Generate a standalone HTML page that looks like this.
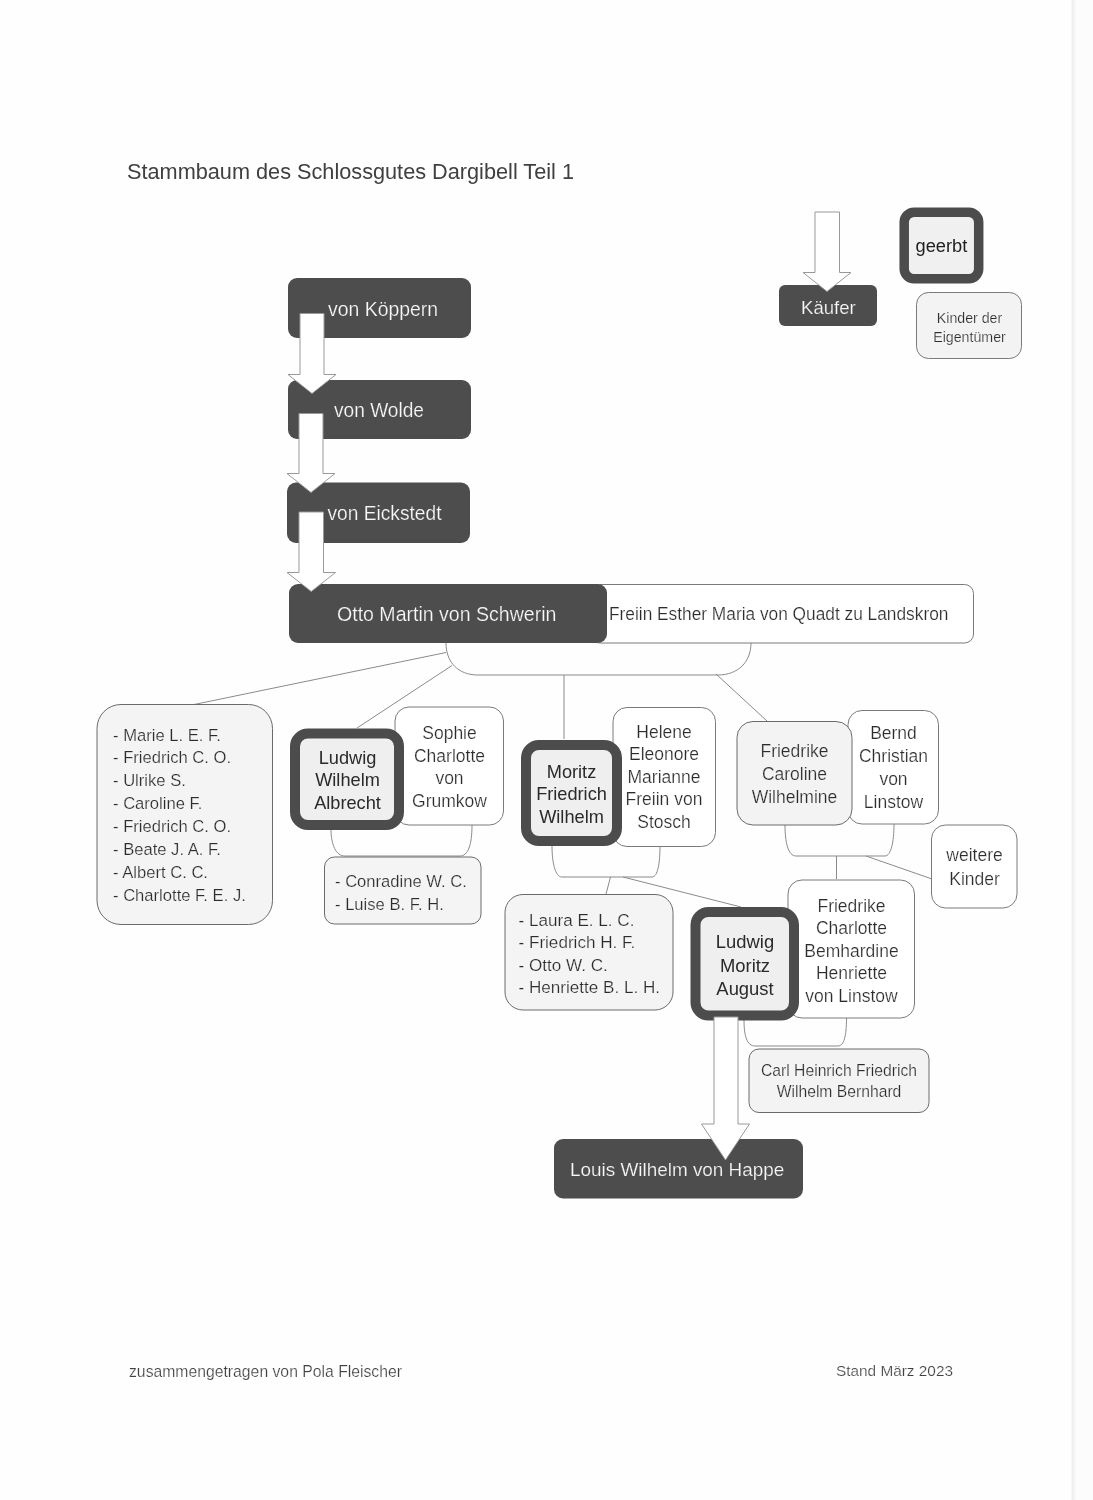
<!DOCTYPE html>
<html><head><meta charset="utf-8"><style>
html,body{margin:0;padding:0;background:#fefefe;}
body{width:1093px;height:1500px;overflow:hidden;position:relative;}
svg{position:absolute;left:0;top:0;will-change:transform;}
text{font-family:"Liberation Sans", sans-serif;}
</style></head><body>
<svg width="1093" height="1500" viewBox="0 0 1093 1500">
<defs><linearGradient id="eg" x1="0" x2="1" y1="0" y2="0"><stop offset="0" stop-color="#fefefe"/><stop offset="0.3" stop-color="#eeeeee"/><stop offset="1" stop-color="#fbfbfb"/></linearGradient></defs>
<rect x="1071" y="0" width="5" height="1500" fill="url(#eg)"/>
<rect x="1076" y="0" width="17" height="1500" fill="#fcfcfc"/>
<text x="127" y="179" font-size="22" fill="#404040" text-anchor="start"  textLength="447.0" lengthAdjust="spacingAndGlyphs">Stammbaum des Schlossgutes Dargibell Teil 1</text>
<rect x="779" y="285" width="98" height="41" rx="6" fill="#4d4d4d"/>
<text x="801" y="314" font-size="18.5" fill="#f8f8f8" text-anchor="start"  stroke="#4d4d4d" stroke-width="0.2" textLength="54.7" lengthAdjust="spacingAndGlyphs">K&#228;ufer</text>
<path d="M815,212 L839.5,212 L839.5,272.5 L851,272.5 L827.0,291.5 L803,272.5 L815,272.5 Z" fill="#fff" stroke="#999999" stroke-width="1"/>
<rect x="904.2" y="212.2" width="74.5" height="66.5" rx="10" fill="#f0f0f0" stroke="#4c4c4c" stroke-width="9.5"/>
<text x="915.5" y="252" font-size="18" fill="#1e1e1e" text-anchor="start"  textLength="51.8" lengthAdjust="spacingAndGlyphs">geerbt</text>
<rect x="916.5" y="292.5" width="105.0" height="66.0" rx="12" fill="#f3f3f3" stroke="#7a7a7a" stroke-width="1"/>
<text x="969.5" y="323" font-size="14.2" fill="#2c2c2c" text-anchor="middle"  stroke="#f3f3f3" stroke-width="0.22">Kinder der</text>
<text x="969.5" y="342" font-size="14.2" fill="#2c2c2c" text-anchor="middle"  stroke="#f3f3f3" stroke-width="0.22">Eigent&#252;mer</text>
<rect x="288" y="278" width="183" height="60" rx="9" fill="#4d4d4d"/>
<text x="328" y="316" font-size="19.3" fill="#f8f8f8" text-anchor="start"  stroke="#4d4d4d" stroke-width="0.2" textLength="110.1" lengthAdjust="spacingAndGlyphs">von K&#246;ppern</text>
<rect x="288" y="380" width="183" height="59" rx="9" fill="#4d4d4d"/>
<text x="334" y="416.5" font-size="19.3" fill="#f8f8f8" text-anchor="start"  stroke="#4d4d4d" stroke-width="0.2" textLength="90.0" lengthAdjust="spacingAndGlyphs">von Wolde</text>
<rect x="287" y="482.5" width="183" height="60.5" rx="9" fill="#4d4d4d"/>
<text x="327.5" y="520" font-size="19.3" fill="#f8f8f8" text-anchor="start"  stroke="#4d4d4d" stroke-width="0.2" textLength="114.0" lengthAdjust="spacingAndGlyphs">von Eickstedt</text>
<path d="M300,313.5 L324,313.5 L324,374.5 L336,374.5 L312.0,393.5 L288,374.5 L300,374.5 Z" fill="#fff" stroke="#999999" stroke-width="1"/>
<path d="M299,413.5 L323,413.5 L323,473.5 L335,473.5 L311.0,492.5 L287,473.5 L299,473.5 Z" fill="#fff" stroke="#999999" stroke-width="1"/>
<rect x="590.5" y="584.5" width="383.0" height="58.5" rx="9" fill="#fff" stroke="#7a7a7a" stroke-width="1"/>
<rect x="289" y="584" width="318" height="59" rx="9" fill="#4d4d4d"/>
<text x="337" y="621" font-size="19.3" fill="#f8f8f8" text-anchor="start"  stroke="#4d4d4d" stroke-width="0.2" textLength="219.4" lengthAdjust="spacingAndGlyphs">Otto Martin von Schwerin</text>
<text x="609" y="620" font-size="18.3" fill="#2c2c2c" text-anchor="start"  stroke="#fff" stroke-width="0.22" textLength="339.4" lengthAdjust="spacingAndGlyphs">Freiin Esther Maria von Quadt zu Landskron</text>
<path d="M299,512 L323.5,512 L323.5,572.5 L335.5,572.5 L311.25,591.5 L287,572.5 L299,572.5 Z" fill="#fff" stroke="#999999" stroke-width="1"/>
<path d="M446,643 C446,662 458,675 478,675 L718,675 C738,675 751,662 751,643" fill="none" stroke="#8a8a8a" stroke-width="1"/>
<path d="M564,675 L564,739" fill="none" stroke="#8a8a8a" stroke-width="1"/>
<path d="M446,652.5 L194,704.5" fill="none" stroke="#8a8a8a" stroke-width="1"/>
<path d="M452,665.5 L357,728" fill="none" stroke="#8a8a8a" stroke-width="1"/>
<path d="M716,674 L767,721" fill="none" stroke="#8a8a8a" stroke-width="1"/>
<rect x="97.0" y="704.5" width="175.5" height="220.0" rx="24" fill="#f4f4f4" stroke="#6a6a6a" stroke-width="1"/>
<text x="113" y="740.5" font-size="16.6" fill="#2c2c2c" text-anchor="start"  stroke="#f4f4f4" stroke-width="0.22">- Marie L. E. F.</text>
<text x="113" y="763.4" font-size="16.6" fill="#2c2c2c" text-anchor="start"  stroke="#f4f4f4" stroke-width="0.22">- Friedrich C. O.</text>
<text x="113" y="786.3" font-size="16.6" fill="#2c2c2c" text-anchor="start"  stroke="#f4f4f4" stroke-width="0.22">- Ulrike S.</text>
<text x="113" y="809.2" font-size="16.6" fill="#2c2c2c" text-anchor="start"  stroke="#f4f4f4" stroke-width="0.22">- Caroline F.</text>
<text x="113" y="832.1" font-size="16.6" fill="#2c2c2c" text-anchor="start"  stroke="#f4f4f4" stroke-width="0.22">- Friedrich C. O.</text>
<text x="113" y="855.0" font-size="16.6" fill="#2c2c2c" text-anchor="start"  stroke="#f4f4f4" stroke-width="0.22">- Beate J. A. F.</text>
<text x="113" y="877.9" font-size="16.6" fill="#2c2c2c" text-anchor="start"  stroke="#f4f4f4" stroke-width="0.22">- Albert C. C.</text>
<text x="113" y="900.8" font-size="16.6" fill="#2c2c2c" text-anchor="start"  stroke="#f4f4f4" stroke-width="0.22">- Charlotte F. E. J.</text>
<path d="M331,829 C331,845 336,856 345,856 L460,856 C468,856 472,845 472,825" fill="none" stroke="#8a8a8a" stroke-width="1"/>
<rect x="395.0" y="707.0" width="108.5" height="118.0" rx="14" fill="#fff" stroke="#7a7a7a" stroke-width="1"/>
<text x="449.5" y="739.0" font-size="17.5" fill="#2c2c2c" text-anchor="middle"  stroke="#fff" stroke-width="0.22">Sophie</text>
<text x="449.5" y="761.6" font-size="17.5" fill="#2c2c2c" text-anchor="middle"  stroke="#fff" stroke-width="0.22">Charlotte</text>
<text x="449.5" y="784.2" font-size="17.5" fill="#2c2c2c" text-anchor="middle"  stroke="#fff" stroke-width="0.22">von</text>
<text x="449.5" y="806.8" font-size="17.5" fill="#2c2c2c" text-anchor="middle"  stroke="#fff" stroke-width="0.22">Grumkow</text>
<rect x="295.0" y="733.5" width="104.0" height="91.5" rx="13" fill="#efefef" stroke="#4c4c4c" stroke-width="10"/>
<text x="347.5" y="763.5" font-size="18.2" fill="#2a2a2a" text-anchor="middle" >Ludwig</text>
<text x="347.5" y="786.1" font-size="18.2" fill="#2a2a2a" text-anchor="middle" >Wilhelm</text>
<text x="347.5" y="808.7" font-size="18.2" fill="#2a2a2a" text-anchor="middle" >Albrecht</text>
<rect x="324.5" y="857.0" width="156.5" height="67.0" rx="10" fill="#f4f4f4" stroke="#6a6a6a" stroke-width="1"/>
<text x="335" y="886.5" font-size="16.6" fill="#2c2c2c" text-anchor="start"  stroke="#f4f4f4" stroke-width="0.22">- Conradine W. C.</text>
<text x="335" y="909.5" font-size="16.6" fill="#2c2c2c" text-anchor="start"  stroke="#f4f4f4" stroke-width="0.22">- Luise B. F. H.</text>
<path d="M552,846 C552,862 555,877 562,877 L652,877 C658,877 660,862 660,846" fill="none" stroke="#8a8a8a" stroke-width="1"/>
<path d="M610.5,877 L606,894" fill="none" stroke="#8a8a8a" stroke-width="1"/>
<path d="M623,877 L741,907" fill="none" stroke="#8a8a8a" stroke-width="1"/>
<rect x="613.0" y="707.5" width="102.5" height="139.0" rx="14" fill="#fff" stroke="#7a7a7a" stroke-width="1"/>
<text x="664" y="737.5" font-size="17.5" fill="#2c2c2c" text-anchor="middle"  stroke="#fff" stroke-width="0.22">Helene</text>
<text x="664" y="760.1" font-size="17.5" fill="#2c2c2c" text-anchor="middle"  stroke="#fff" stroke-width="0.22">Eleonore</text>
<text x="664" y="782.7" font-size="17.5" fill="#2c2c2c" text-anchor="middle"  stroke="#fff" stroke-width="0.22">Marianne</text>
<text x="664" y="805.3" font-size="17.5" fill="#2c2c2c" text-anchor="middle"  stroke="#fff" stroke-width="0.22">Freiin von</text>
<text x="664" y="827.9" font-size="17.5" fill="#2c2c2c" text-anchor="middle"  stroke="#fff" stroke-width="0.22">Stosch</text>
<rect x="526.0" y="745.0" width="91.0" height="96.0" rx="13" fill="#efefef" stroke="#4c4c4c" stroke-width="10"/>
<text x="571.5" y="777.5" font-size="18.2" fill="#2a2a2a" text-anchor="middle" >Moritz</text>
<text x="571.5" y="800.1" font-size="18.2" fill="#2a2a2a" text-anchor="middle" >Friedrich</text>
<text x="571.5" y="822.7" font-size="18.2" fill="#2a2a2a" text-anchor="middle" >Wilhelm</text>
<rect x="505.0" y="894.5" width="168.0" height="115.5" rx="18" fill="#f4f4f4" stroke="#6a6a6a" stroke-width="1"/>
<text x="518.5" y="926.0" font-size="17.1" fill="#2c2c2c" text-anchor="start"  stroke="#f4f4f4" stroke-width="0.22">- Laura E. L. C.</text>
<text x="518.5" y="948.3" font-size="17.1" fill="#2c2c2c" text-anchor="start"  stroke="#f4f4f4" stroke-width="0.22">- Friedrich H. F.</text>
<text x="518.5" y="970.6" font-size="17.1" fill="#2c2c2c" text-anchor="start"  stroke="#f4f4f4" stroke-width="0.22">- Otto W. C.</text>
<text x="518.5" y="992.9" font-size="17.1" fill="#2c2c2c" text-anchor="start"  stroke="#f4f4f4" stroke-width="0.22">- Henriette B. L. H.</text>
<path d="M785,825 C785,842 788,856 796,856 L885,856 C891,856 894,842 894,824" fill="none" stroke="#8a8a8a" stroke-width="1"/>
<path d="M836.5,856 L836.5,879" fill="none" stroke="#8a8a8a" stroke-width="1"/>
<path d="M866,856 L932,879" fill="none" stroke="#8a8a8a" stroke-width="1"/>
<rect x="848.0" y="710.5" width="90.5" height="113.5" rx="14" fill="#fff" stroke="#7a7a7a" stroke-width="1"/>
<text x="893.5" y="739.0" font-size="17.5" fill="#2c2c2c" text-anchor="middle"  stroke="#fff" stroke-width="0.22">Bernd</text>
<text x="893.5" y="761.9" font-size="17.5" fill="#2c2c2c" text-anchor="middle"  stroke="#fff" stroke-width="0.22">Christian</text>
<text x="893.5" y="784.8" font-size="17.5" fill="#2c2c2c" text-anchor="middle"  stroke="#fff" stroke-width="0.22">von</text>
<text x="893.5" y="807.7" font-size="17.5" fill="#2c2c2c" text-anchor="middle"  stroke="#fff" stroke-width="0.22">Linstow</text>
<rect x="737.0" y="721.5" width="115.0" height="103.5" rx="16" fill="#f3f3f3" stroke="#6a6a6a" stroke-width="1"/>
<text x="794.5" y="757" font-size="17.5" fill="#2c2c2c" text-anchor="middle"  stroke="#f3f3f3" stroke-width="0.22">Friedrike</text>
<text x="794.5" y="780" font-size="17.5" fill="#2c2c2c" text-anchor="middle"  stroke="#f3f3f3" stroke-width="0.22">Caroline</text>
<text x="794.5" y="803" font-size="17.5" fill="#2c2c2c" text-anchor="middle"  stroke="#f3f3f3" stroke-width="0.22">Wilhelmine</text>
<rect x="931.5" y="825.0" width="85.5" height="83.0" rx="14" fill="#fff" stroke="#7a7a7a" stroke-width="1"/>
<text x="974.5" y="860.5" font-size="17.5" fill="#2c2c2c" text-anchor="middle"  stroke="#fff" stroke-width="0.22">weitere</text>
<text x="974.5" y="884.5" font-size="17.5" fill="#2c2c2c" text-anchor="middle"  stroke="#fff" stroke-width="0.22">Kinder</text>
<path d="M744,1020 C744,1036 747,1046 755,1046 L838,1046 C844,1046 846.5,1036 846.5,1018" fill="none" stroke="#8a8a8a" stroke-width="1"/>
<rect x="788.0" y="880.0" width="126.5" height="138.0" rx="14" fill="#fff" stroke="#7a7a7a" stroke-width="1"/>
<text x="851.5" y="911.5" font-size="17.5" fill="#2c2c2c" text-anchor="middle"  stroke="#fff" stroke-width="0.22">Friedrike</text>
<text x="851.5" y="934.1" font-size="17.5" fill="#2c2c2c" text-anchor="middle"  stroke="#fff" stroke-width="0.22">Charlotte</text>
<text x="851.5" y="956.7" font-size="17.5" fill="#2c2c2c" text-anchor="middle"  stroke="#fff" stroke-width="0.22">Bemhardine</text>
<text x="851.5" y="979.3" font-size="17.5" fill="#2c2c2c" text-anchor="middle"  stroke="#fff" stroke-width="0.22">Henriette</text>
<text x="851.5" y="1001.9" font-size="17.5" fill="#2c2c2c" text-anchor="middle"  stroke="#fff" stroke-width="0.22">von Linstow</text>
<rect x="695.5" y="912.0" width="98.5" height="103.5" rx="13" fill="#efefef" stroke="#4c4c4c" stroke-width="10"/>
<text x="745" y="948.0" font-size="18.4" fill="#2a2a2a" text-anchor="middle" >Ludwig</text>
<text x="745" y="971.7" font-size="18.4" fill="#2a2a2a" text-anchor="middle" >Moritz</text>
<text x="745" y="995.4" font-size="18.4" fill="#2a2a2a" text-anchor="middle" >August</text>
<rect x="749.0" y="1049.0" width="180.0" height="63.5" rx="10" fill="#f3f3f3" stroke="#6a6a6a" stroke-width="1"/>
<text x="839" y="1076.0" font-size="15.7" fill="#2c2c2c" text-anchor="middle"  stroke="#f3f3f3" stroke-width="0.22">Carl Heinrich Friedrich</text>
<text x="839" y="1096.6" font-size="15.7" fill="#2c2c2c" text-anchor="middle"  stroke="#f3f3f3" stroke-width="0.22">Wilhelm Bernhard</text>
<rect x="554" y="1139" width="249" height="59.5" rx="9" fill="#4d4d4d"/>
<text x="570" y="1176" font-size="19.0" fill="#f8f8f8" text-anchor="start"  stroke="#4d4d4d" stroke-width="0.2" textLength="214.3" lengthAdjust="spacingAndGlyphs">Louis Wilhelm von Happe</text>
<path d="M714,1017 L738,1017 L738,1124 L749.5,1124 L725.5,1160 L701.5,1124 L714,1124 Z" fill="#fff" stroke="#999999" stroke-width="1"/>
<text x="129" y="1376.5" font-size="15.7" fill="#404040" text-anchor="start"  stroke="#fefefe" stroke-width="0.22" textLength="273.0" lengthAdjust="spacingAndGlyphs">zusammengetragen von Pola Fleischer</text>
<text x="836" y="1376" font-size="15.4" fill="#404040" text-anchor="start"  stroke="#fefefe" stroke-width="0.22" textLength="117.0" lengthAdjust="spacingAndGlyphs">Stand M&#228;rz 2023</text>
</svg>
</body></html>
